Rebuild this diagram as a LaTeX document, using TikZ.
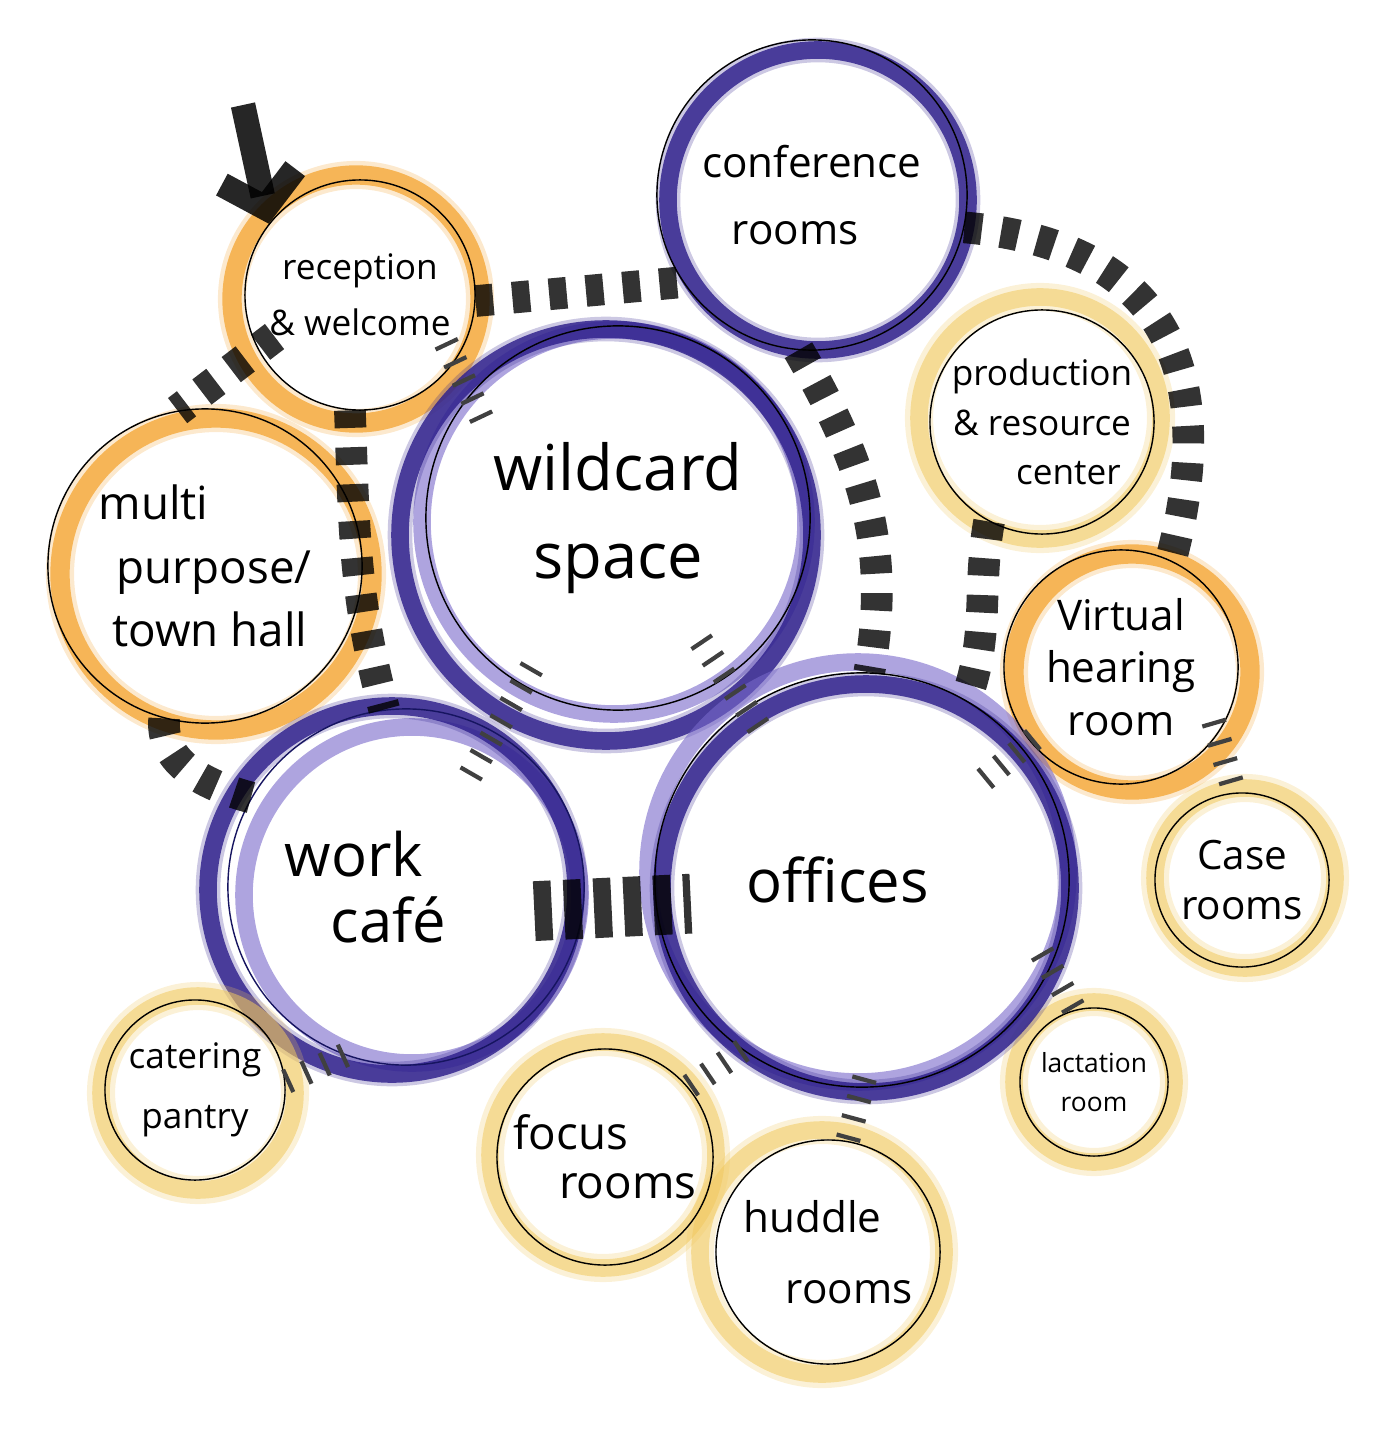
\documentclass[tikz,border=0pt]{standalone}
\usepackage{fontspec}
\setmainfont{Open Sans}
\usetikzlibrary{arrows.meta, calc, backgrounds}
\definecolor{ringpurple}{RGB}{50,36,142}
\definecolor{ringlilac}{RGB}{120,104,202}
\definecolor{ringorange}{RGB}{244,168,58}
\definecolor{ringyellow}{RGB}{240,200,95}
\definecolor{penblue}{RGB}{22,20,96}

\begin{document}
\begin{tikzpicture}[
    x=0.01cm, y=-0.01cm,
    room/.style={draw, circle, thin, inner sep=0pt, align=center},
    ringP/.style={draw=ringpurple, line width=5pt, opacity=.85,
        preaction={draw=ringpurple, line width=7pt, opacity=.25}},
    ringL/.style={draw=ringlilac, line width=5pt, opacity=.6},
    ringO/.style={draw=ringorange, line width=5.5pt, opacity=.8,
        preaction={draw=ringorange, line width=8pt, opacity=.25}},
    ringY/.style={draw=ringyellow, line width=5pt, opacity=.55,
        preaction={draw=ringyellow, line width=8pt, opacity=.25}},
    link/.style={draw=black, line width=9pt, opacity=.8, dash pattern=on 5pt off 5.5pt},
    tick/.style={draw=black!75, line width=7pt, dash pattern=on 1.2pt off 4.5pt},
]
    \useasboundingbox (0,0) rectangle (1385,1455);

    % rooms
    \node[room, minimum size=3.10cm, font=\fontsize{12}{19}\selectfont] (conf) at (812,195) {conference\\rooms\hspace*{0.8em}};
    \node[room, minimum size=2.30cm, font=\fontsize{10}{16}\selectfont] (recep) at (360,295) {reception\\\&\ welcome};
    \node[room, minimum size=3.84cm, font=\fontsize{18}{25}\selectfont] (wild) at (618,518) {wildcard\\space};
    \node[room, minimum size=3.14cm, font=\fontsize{13}{18}\selectfont, align=left] (multi) at (205,566) {multi\\\hspace*{0.4em}purpose/\\\hspace*{0.3em}town hall};
    \node[room, minimum size=2.24cm, font=\fontsize{10}{14}\selectfont] (prod) at (1042,422) {production\\\&\ resource\\\hspace*{1.5em}center};
    \node[room, minimum size=2.34cm, font=\fontsize{12}{15}\selectfont] (virt) at (1121,667) {Virtual\\hearing\\room};
    \node[room, minimum size=1.74cm, font=\fontsize{11.5}{14}\selectfont] (case) at (1242,880) {Case\\rooms};
    \node[room, minimum size=1.48cm, font=\fontsize{7.5}{11}\selectfont] (lact) at (1094,1082) {lactation\\room};
    \node[room, draw=penblue, minimum size=3.56cm, font=\fontsize{17}{19}\selectfont, align=left] (cafe) at (406,887) {work\hspace*{23pt}\\\hspace*{13pt}café\hspace*{23pt}};
    \node[room, minimum size=4.14cm, font=\fontsize{17}{19}\selectfont] (offices) at (862,880) {offices\hspace*{14pt}};
    \node[room, minimum size=1.80cm, font=\fontsize{10}{17}\selectfont] (cater) at (195,1090) {catering\\pantry};
    \node[room, minimum size=2.16cm, font=\fontsize{13}{14}\selectfont, align=left] (focus) at (605,1157) {focus\\\hspace*{1em}rooms};
    \node[room, minimum size=2.24cm, font=\fontsize{12}{20}\selectfont, align=left] (huddle) at (828,1252) {huddle\\\hspace*{1em}rooms};

    % coloured rings
    \begin{scope}[on background layer]
        \draw[ringP] (818,200) circle[radius=150];
        \draw[ringO] (356,299) circle[radius=124];
        \draw[ringL] (614,522) circle[radius=192];
        \draw[ringP] (606,535) circle[radius=206];
        \draw[ringO] (216,574) circle[radius=156];
        \draw[ringY] (1040,418) circle[radius=121];
        \draw[ringO] (1132,672) circle[radius=118];
        \draw[ringY] (1245,878) circle[radius=90];
        \draw[ringY] (1094,1082) circle[radius=80];
        \draw[ringL] (412,895) circle[radius=168];
        \draw[ringP] (392,890) circle[radius=184];
        \draw[ringL] (858,872) circle[radius=210];
        \draw[ringP] (866,888) circle[radius=204];
        \draw[ringY] (198,1093) circle[radius=97];
        \draw[ringY] (603,1155) circle[radius=113];
        \draw[ringY] (822,1252) circle[radius=122];
    \end{scope}

    % entry
    \coordinate (entry) at (243,105);
    \draw[black, opacity=.85, line width=7pt, -{Straight Barb[length=3.2mm, width=7.5mm]}] (entry) -- (recep.142);

    % main links
    \draw[link] (recep.-3) -- (conf.214);
    \draw[link, shorten <=-6pt] (recep.208) -- (multi.100);
    \draw[link] (recep.-95) to[out=-88, in=105] (cafe.97);
    \draw[link] (multi.-105) to[out=-95, in=165] (cafe.150);
    \draw[link] (conf.-95) to[out=-60, in=80] (offices.88);
    \draw[link] (conf.-12) to[out=-5, in=75, looseness=1.3] (virt.65);
    \draw[link] (prod.-118) to[out=-100, in=70] (offices.60);
    \draw[link, line width=17pt, dash pattern=on 5pt off 3.5pt, shorten <=-14pt, shorten >=-10pt] (cafe.-7) -- (offices.187);

    % minor links
    \draw[tick, shorten <=-6pt, shorten >=-8pt] (recep.-35) -- (wild.140);
    \draw[tick, shorten <=42pt, shorten >=50pt] (wild.center) -- (offices.center);
    \draw[tick, shorten <=49pt, shorten >=33pt] (wild.center) -- (cafe.center);
    \draw[tick, shorten <=45pt, shorten >=28pt] (offices.center) -- (virt.center);
    \draw[tick, shorten <=-4pt] (virt.-35) -- (case.95);
    \draw[tick, shorten <=-5pt] (offices.-25) -- (lact.105);
    \draw[tick] (offices.235) -- (focus.40);
    \draw[tick, shorten <=-3pt] (offices.-90) -- (huddle.80);
    \draw[tick] (cafe.250) -- (cater.5);
\end{tikzpicture}
\end{document}
